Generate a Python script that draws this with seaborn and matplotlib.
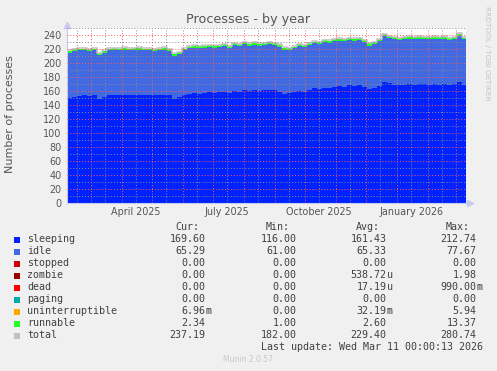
"""Munin 'Processes - by year' chart recreated with seaborn/matplotlib."""

import matplotlib

matplotlib.use("Agg")

import matplotlib.dates as mdates
import matplotlib.pyplot as plt
import numpy as np
import pandas as pd
import seaborn as sns
from matplotlib.patches import Rectangle
from matplotlib.ticker import MultipleLocator

# --- data (5-day samples) ---
start_date = "2025-02-05"
end_date = "2026-03-11"
step_days = 5

sleeping = [
    150, 152, 153, 154, 153, 154, 148, 152, 154, 155,
    154, 155, 155, 154, 155, 154, 155, 154, 155, 155,
    154, 149, 151, 154, 156, 157, 156, 157, 158, 157,
    158, 159, 157, 160, 159, 161, 160, 161, 160, 161,
    162, 161, 159, 156, 157, 158, 160, 159, 162, 164,
    163, 165, 165, 166, 167, 166, 168, 167, 168, 166,
    163, 164, 167, 173, 171, 169, 168, 169, 170, 169,
    170, 170, 169, 170, 169, 170, 169, 170, 173, 169,
]
idle = [
    65, 65, 65, 64, 64, 64, 63, 63, 64, 64,
    64, 64, 63, 64, 64, 64, 63, 63, 63, 64,
    63, 61, 62, 64, 65, 65, 65, 65, 65, 65,
    65, 65, 64, 66, 65, 66, 65, 65, 65, 65,
    65, 65, 64, 63, 61, 63, 64, 64, 64, 64,
    64, 65, 64, 65, 65, 65, 65, 65, 65, 64,
    62, 63, 64, 65, 65, 65, 65, 65, 65, 65,
    65, 64, 65, 65, 65, 65, 64, 64, 66, 65,
]
runnable = [
    2.5, 2.7, 2.4, 2.6, 3.0, 2.5, 2.8, 2.4, 2.6, 2.5,
    2.7, 2.6, 2.5, 2.9, 2.6, 2.4, 2.7, 2.5, 2.6, 2.8,
    2.5, 3.2, 2.6, 2.7, 2.5, 2.6, 2.8, 2.5, 2.6, 2.7,
    2.4, 2.6, 3.1, 2.5, 2.7, 2.6, 2.5, 2.8, 2.6, 2.5,
    2.7, 2.6, 2.9, 2.6, 3.0, 2.5, 2.6, 2.7, 2.5, 2.6,
    2.8, 2.5, 2.6, 2.7, 2.5, 2.6, 2.4, 2.7, 2.6, 2.5,
    2.9, 2.6, 2.5, 2.8, 2.6, 2.5, 2.6, 2.7, 2.5, 2.6,
    2.4, 2.6, 2.7, 2.5, 2.6, 2.5, 2.7, 2.6, 2.8, 2.3,
]

legend_names = ["sleeping", "idle", "stopped", "zombie", "dead", "paging",
                "uninterruptible", "runnable", "total"]
legend_colors = ["#0022ff", "#4169e1", "#cc0000", "#990000", "#ff0000",
                 "#00aaaa", "#ffa500", "#22ff22", "#c0c0c0"]
cur_vals = ["169.60", "65.29", "0.00", "0.00", "0.00", "0.00", "6.96m", "2.34", "237.19"]
min_vals = ["116.00", "61.00", "0.00", "0.00", "0.00", "0.00", "0.00", "1.00", "182.00"]
avg_vals = ["161.43", "65.33", "0.00", "538.72u", "17.19u", "0.00", "32.19m", "2.60", "229.40"]
max_vals = ["212.74", "77.67", "0.00", "1.98", "990.00m", "0.00", "5.94", "13.37", "280.74"]

W, H = 497, 371
BG = "#f0f0f0"
TXT = "#555555"

sns.set_theme(style="white", rc={"axes.facecolor": "white", "figure.facecolor": BG})
plt.rcParams["font.family"] = ["DejaVu Sans"]


def fx(x):
    return x / W


def fy(y):
    return 1 - y / H


dates = pd.date_range(start_date, periods=len(sleeping), freq=f"{step_days}D")
edges = dates.append(pd.DatetimeIndex([pd.Timestamp(end_date)]))
s = np.append(sleeping, sleeping[-1])
i = np.append(idle, idle[-1])
r = np.append(runnable, runnable[-1])
lvl1 = s
lvl2 = s + i
lvl3 = lvl2 + r

fig = plt.figure(figsize=(W / 100, H / 100), dpi=100, facecolor=BG)
ax = fig.add_axes([fx(67), fy(203), fx(466 - 67), (203 - 28) / H])

ax.fill_between(edges, 0, lvl1, step="post", color="#0022ff", lw=0, zorder=1)
ax.fill_between(edges, lvl1, lvl2, step="post", color="#4169e1", lw=0, zorder=1)
ax.fill_between(edges, lvl2, lvl3, step="post", color="#22ff22", lw=0, zorder=1)
sns.lineplot(x=edges, y=lvl3 + 0.6, drawstyle="steps-post", color="#c0c0c0",
             lw=1.1, ax=ax, zorder=2)

ax.set_xlim(pd.Timestamp(start_date), pd.Timestamp(end_date))
ax.set_ylim(0, 250)

# grid: red dotted majors, grey dotted minors, drawn above the areas
ax.yaxis.set_major_locator(MultipleLocator(20))
ax.yaxis.set_minor_locator(MultipleLocator(10))
ax.xaxis.set_major_locator(mdates.MonthLocator())
ax.xaxis.set_minor_locator(mdates.MonthLocator(bymonthday=15))
ax.xaxis.set_major_formatter(plt.NullFormatter())
ax.xaxis.set_minor_formatter(
    plt.FuncFormatter(lambda v, p: mdates.num2date(v).strftime("%B %Y")
                      if mdates.num2date(v).month in (1, 4, 7, 10) else ""))
ax.set_axisbelow(False)
ax.grid(which="major", color=(1, 0.35, 0.35, 0.38), linestyle=(0, (1, 2)), lw=0.7, zorder=3)
ax.grid(which="minor", color=(0.55, 0.55, 0.55, 0.4), linestyle=(0, (1, 2)), lw=0.7, zorder=3)

ax.tick_params(axis="both", which="major", length=2, width=0.7, color=(1, 0.3, 0.3, 0.6),
               labelsize=6.9, labelcolor=TXT, pad=2)
ax.tick_params(axis="x", which="minor", length=0, labelsize=6.9, labelcolor=TXT, pad=3)
ax.tick_params(axis="y", which="minor", length=0)
ax.set_xlabel("")
ax.set_ylabel("")

for side in ("top", "right"):
    ax.spines[side].set_visible(False)
for side in ("left", "bottom"):
    ax.spines[side].set_color("#c8c8f0")
    ax.spines[side].set_linewidth(0.8)
ax.plot([0], [1.015], marker="^", ms=4, color="#c8c8f0", transform=ax.transAxes, clip_on=False)
ax.plot([1.01], [0], marker=">", ms=4, color="#c8c8f0", transform=ax.transAxes, clip_on=False)

# titles and side texts
fig.text(fx(248), fy(19), "Processes - by year", ha="center", va="center", size=9.2, color=TXT)
fig.text(fx(10), fy(114), "Number of processes", ha="center", va="center", rotation=90,
         size=8, color=TXT)
fig.text(fx(487), fy(53), "RRDTOOL / TOBI OETIKER", ha="center", va="center", rotation=270,
         size=5.3, color="#c4c4c4")

# legend table
mono = dict(family="DejaVu Sans Mono", size=7.2, color="#404040", va="center")
cols_right = [205.7, 296.7, 386.7, 476.7]
headers = ["Cur:", "Min:", "Avg:", "Max:"]
header_right = [199, 290, 380, 470]
for h, xr in zip(headers, header_right):
    fig.text(fx(xr), fy(227.5), h, ha="right", **mono)


def split_unit(v):
    if v[-1].isalpha():
        return v[:-1], v[-1]
    return v, ""


for row, (name, col) in enumerate(zip(legend_names, legend_colors)):
    y = 239.5 + 12 * row
    fig.add_artist(Rectangle((fx(14), fy(y + 3)), 6 / W, 6 / H, transform=fig.transFigure,
                             facecolor=col, edgecolor="none"))
    fig.text(fx(27), fy(y), name, ha="left", **mono)
    for vals, xr in zip([cur_vals, min_vals, avg_vals, max_vals], cols_right):
        num, unit = split_unit(vals[row])
        fig.text(fx(xr), fy(y), num, ha="right", **mono)
        if unit:
            fig.text(fx(xr), fy(y), unit, ha="left", **mono)

fig.text(fx(482.7), fy(347.5), "Last update: Wed Mar 11 00:00:13 2026", ha="right", **mono)
fig.text(fx(248), fy(360), "Munin 2.0.57", ha="center", va="center", size=5.5, color="#c8c8c8")

fig.savefig("out.png", dpi=100, facecolor=BG)
